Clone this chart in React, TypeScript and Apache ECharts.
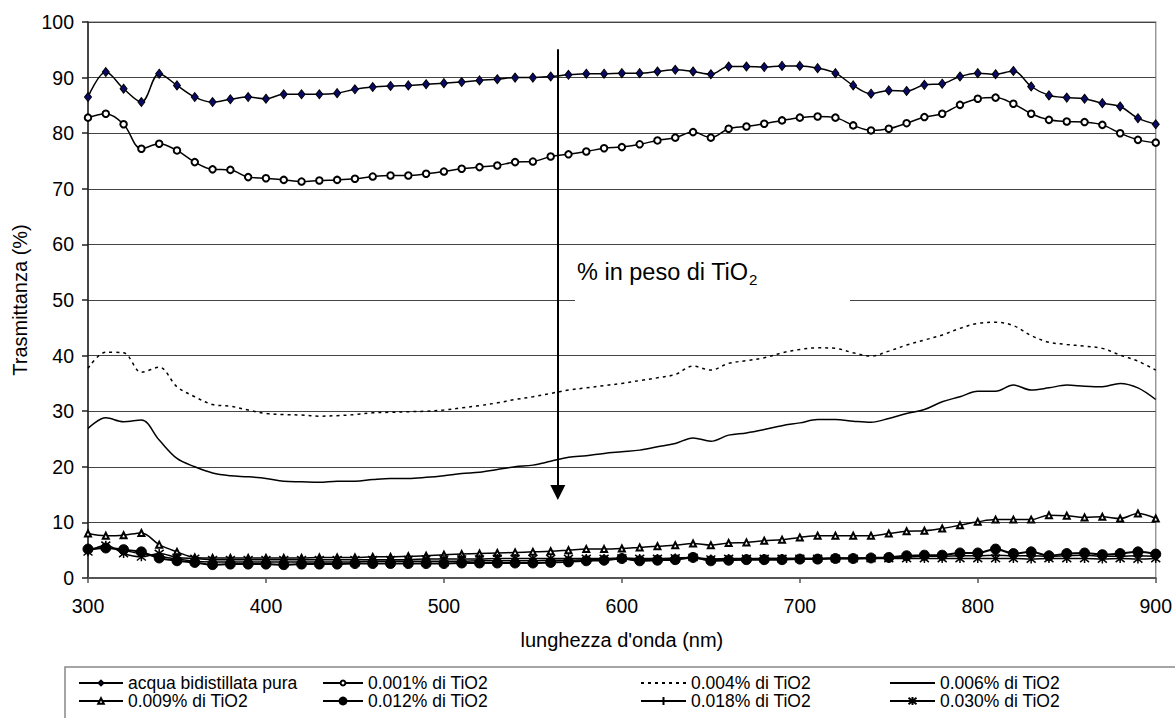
import React, { useEffect, useRef } from "react";
import * as echarts from "echarts";

const wavelengths = [
  300, 310, 320, 330, 340, 350, 360, 370, 380, 390, 400, 410, 420, 430, 440, 450, 460, 470, 480, 490,
  500, 510, 520, 530, 540, 550, 560, 570, 580, 590, 600, 610, 620, 630, 640, 650, 660, 670, 680, 690,
  700, 710, 720, 730, 740, 750, 760, 770, 780, 790, 800, 810, 820, 830, 840, 850, 860, 870, 880, 890, 900,
];

const seriesNames = [
  "acqua bidistillata pura",
  "0.001% di TiO2",
  "0.004% di TiO2",
  "0.006% di TiO2",
  "0.009% di TiO2",
  "0.012% di TiO2",
  "0.018% di TiO2",
  "0.030% di TiO2",
];

const acqua = [
  86.5, 91.0, 88.0, 85.6, 90.7, 88.6, 86.5, 85.6, 86.1, 86.5, 86.2, 87.0, 87.0, 87.0, 87.2, 87.9, 88.3, 88.5, 88.6, 88.8,
  89.0, 89.2, 89.5, 89.7, 90.0, 90.0, 90.2, 90.5, 90.7, 90.7, 90.8, 90.8, 91.1, 91.4, 91.1, 90.6, 92.0, 92.0, 91.9, 92.1,
  92.1, 91.7, 90.8, 88.6, 87.1, 87.7, 87.6, 88.7, 88.9, 90.2, 90.8, 90.6, 91.2, 88.4, 86.8, 86.4, 86.2, 85.4, 84.8, 82.7, 81.6,
];

const tio2_001 = [
  82.8, 83.5, 81.6, 77.2, 78.1, 76.9, 74.8, 73.5, 73.4, 72.1, 71.9, 71.6, 71.3, 71.5, 71.6, 71.8, 72.2, 72.4, 72.4, 72.7,
  73.1, 73.6, 73.9, 74.2, 74.8, 74.9, 75.8, 76.2, 76.7, 77.3, 77.5, 78.0, 78.7, 79.2, 80.2, 79.2, 80.8, 81.2, 81.7, 82.3,
  82.8, 83.0, 82.8, 81.4, 80.5, 80.8, 81.8, 82.9, 83.5, 85.1, 86.2, 86.4, 85.3, 83.5, 82.4, 82.1, 82.0, 81.5, 80.0, 78.8, 78.3,
];

const tio2_004 = [
  37.7, 40.6, 40.5, 37.0, 37.9, 34.4, 32.6, 31.2, 30.9, 30.2, 29.6, 29.4, 29.3, 29.1, 29.2, 29.4, 29.7, 29.8, 29.9, 30.0,
  30.2, 30.6, 31.0, 31.5, 32.1, 32.6, 33.2, 33.8, 34.2, 34.6, 35.0, 35.5, 36.0, 36.6, 38.1, 37.4, 38.6, 39.1, 39.6, 40.5,
  41.1, 41.4, 41.3, 40.5, 39.9, 40.8, 41.9, 42.8, 43.7, 44.9, 45.8, 46.0, 45.4, 43.6, 42.4, 42.0, 41.7, 41.3, 40.1, 39.0, 37.4,
];

const tio2_006 = [
  26.9, 28.8, 28.1, 28.4, 24.8, 21.5, 20.0, 18.9, 18.4, 18.2, 17.9, 17.4, 17.3, 17.2, 17.4, 17.4, 17.7, 17.9, 17.9, 18.1,
  18.4, 18.8, 19.0, 19.5, 20.0, 20.3, 21.0, 21.7, 22.0, 22.4, 22.7, 23.0, 23.6, 24.2, 25.2, 24.6, 25.7, 26.1, 26.7, 27.4,
  27.9, 28.5, 28.5, 28.2, 28.0, 28.7, 29.6, 30.3, 31.7, 32.6, 33.6, 33.6, 34.7, 33.8, 34.2, 34.7, 34.5, 34.4, 35.0, 34.2, 32.1,
];

const tio2_009 = [
  8.0, 7.6, 7.7, 8.1, 6.0, 4.7, 3.7, 3.6, 3.6, 3.6, 3.6, 3.6, 3.6, 3.7, 3.7, 3.7, 3.8, 3.8, 3.9, 4.0,
  4.2, 4.3, 4.4, 4.5, 4.6, 4.7, 4.8, 5.0, 5.2, 5.2, 5.3, 5.5, 5.7, 5.9, 6.2, 5.9, 6.3, 6.4, 6.7, 6.9,
  7.3, 7.6, 7.6, 7.6, 7.6, 8.0, 8.4, 8.5, 8.9, 9.5, 10.1, 10.5, 10.5, 10.5, 11.3, 11.2, 10.9, 11.0, 10.7, 11.6, 10.7,
];

const tio2_012 = [
  5.2, 5.4, 5.1, 4.7, 3.6, 3.1, 2.8, 2.4, 2.5, 2.5, 2.5, 2.4, 2.5, 2.5, 2.5, 2.6, 2.6, 2.6, 2.6, 2.6,
  2.6, 2.7, 2.7, 2.7, 2.7, 2.7, 2.8, 2.9, 3.1, 3.2, 3.5, 3.1, 3.2, 3.3, 3.7, 3.1, 3.2, 3.3, 3.3, 3.3,
  3.4, 3.4, 3.5, 3.5, 3.6, 3.7, 4.0, 4.1, 4.1, 4.5, 4.5, 5.2, 4.4, 4.7, 4.0, 4.4, 4.5, 4.2, 4.4, 4.7, 4.3,
];

const tio2_018 = [
  5.0, 5.4, 5.0, 4.3, 3.9, 3.4, 3.0, 2.9, 2.9, 2.9, 2.9, 2.9, 2.9, 2.9, 2.9, 2.9, 3.0, 3.0, 3.0, 3.0,
  3.0, 3.0, 3.1, 3.1, 3.1, 3.1, 3.2, 3.2, 3.3, 3.3, 3.5, 3.3, 3.4, 3.4, 3.6, 3.3, 3.4, 3.4, 3.5, 3.5,
  3.5, 3.5, 3.6, 3.6, 3.6, 3.7, 3.8, 3.9, 3.9, 4.0, 4.0, 4.1, 4.0, 4.0, 3.9, 4.0, 4.1, 3.9, 3.9, 4.0, 3.9,
];

const tio2_030 = [
  4.7, 5.9, 4.4, 3.8, 4.4, 3.7, 3.5, 3.3, 3.3, 3.3, 3.3, 3.3, 3.3, 3.3, 3.3, 3.3, 3.3, 3.3, 3.3, 3.4,
  3.4, 3.4, 3.4, 3.5, 3.5, 3.5, 3.5, 3.5, 3.5, 3.5, 3.6, 3.5, 3.5, 3.6, 3.7, 3.4, 3.5, 3.5, 3.5, 3.5,
  3.5, 3.5, 3.5, 3.5, 3.5, 3.5, 3.5, 3.5, 3.5, 3.5, 3.5, 3.5, 3.5, 3.4, 3.5, 3.5, 3.5, 3.4, 3.5, 3.4, 3.5,
];

const xTicks = { min: 300, max: 900, interval: 100 };
const yTicks = { min: 0, max: 100, interval: 10 };

// arrow annotation endpoints, in data units
const arrowX = 564;
const arrowTop = 95.1;
const arrowEnd = 15.4;

const FONT = "'Liberation Sans', Arial, sans-serif";

const PLUS = "path://M0,-5L0,5M-5,0L5,0";
const STAR = "path://M-4,-4L4,4M-4,4L4,-4M0,-5L0,5";

function pairs(vals: number[]) {
  return wavelengths.map((w, i) => [w, vals[i]]);
}

export default function App() {
  const ref = useRef<HTMLDivElement>(null);

  useEffect(() => {
    document.body.style.margin = "0";
    const chart = echarts.init(ref.current!, null, { renderer: "svg" });

    const base = (name: string, vals: number[]) => ({
      name,
      type: "line",
      data: pairs(vals),
      smooth: 0.35,
      lineStyle: { color: "#000", width: 1.5 },
      itemStyle: { color: "#000", borderColor: "#000" },
    });

    const series: any[] = [
      {
        ...base(seriesNames[0], acqua),
        symbol: "diamond",
        symbolSize: [7, 9],
        itemStyle: { color: "#0a0a66", borderColor: "#000", borderWidth: 1 },
        markLine: {
          silent: true,
          symbol: ["none", "triangle"],
          symbolSize: [15, 15],
          label: { show: false },
          lineStyle: { color: "#000", width: 2, type: "solid" },
          data: [[{ coord: [arrowX, arrowTop] }, { coord: [arrowX, arrowEnd] }]],
        },
      },
      {
        ...base(seriesNames[1], tio2_001),
        symbol: "emptyCircle",
        symbolSize: 6.5,
        itemStyle: { color: "#000", borderColor: "#000", borderWidth: 1.2 },
      },
      {
        ...base(seriesNames[2], tio2_004),
        symbol: "none",
        lineStyle: { color: "#000", width: 1.5, type: [3, 4] },
      },
      {
        ...base(seriesNames[3], tio2_006),
        symbol: "none",
      },
      {
        ...base(seriesNames[4], tio2_009),
        symbol: "emptyTriangle",
        symbolSize: 6,
        itemStyle: { color: "#000", borderColor: "#000", borderWidth: 1.2 },
      },
      {
        ...base(seriesNames[5], tio2_012),
        symbol: "circle",
        symbolSize: 10,
        lineStyle: { color: "#000", width: 2 },
        itemStyle: { color: "#000", borderColor: "#000" },
      },
      {
        ...base(seriesNames[6], tio2_018),
        symbol: PLUS,
        symbolSize: 9,
        itemStyle: { color: "none", borderColor: "#000", borderWidth: 1.5 },
      },
      {
        ...base(seriesNames[7], tio2_030),
        symbol: STAR,
        symbolSize: 9,
        itemStyle: { color: "none", borderColor: "#000", borderWidth: 1.5 },
      },
    ];

    // [left, top, itemWidth, itemHeight, hideMarker]
    const legendLayout: [number, number, number, number, boolean][] = [
      [78, 674, 44, 6, false],
      [322, 674, 40, 6, false],
      [640, 674, 45, 6, true],
      [889, 674, 45, 6, true],
      [78, 692, 44, 7, false],
      [322, 692, 40, 11, false],
      [640, 692, 45, 10, false],
      [889, 692, 45, 10, false],
    ];

    const legends = legendLayout.map(([left, top, w, h, hide], si) => ({
      data: [hide ? { name: seriesNames[si], itemStyle: { opacity: 0 } } : seriesNames[si]],
      left,
      top,
      padding: 0,
      itemWidth: w,
      itemHeight: h,
      selectedMode: false,
      textStyle: { fontFamily: FONT, fontSize: 17.5, color: "#000", lineHeight: 18 },
    }));

    chart.setOption({
      animation: false,
      backgroundColor: "#fff",
      textStyle: { fontFamily: FONT },
      grid: {
        left: 88,
        right: 19,
        top: 22,
        bottom: 140,
        show: true,
        borderColor: "#999",
        borderWidth: 1.5,
        backgroundColor: "transparent",
      },
      legend: legends,
      xAxis: {
        type: "value",
        min: xTicks.min,
        max: xTicks.max,
        interval: xTicks.interval,
        name: "lunghezza d'onda (nm)",
        nameLocation: "middle",
        nameGap: 52,
        nameTextStyle: { fontFamily: FONT, fontSize: 20, color: "#000" },
        axisLine: { show: true, lineStyle: { color: "#555", width: 2 } },
        axisTick: { show: true, inside: false, length: 5, lineStyle: { color: "#555", width: 1.5 } },
        axisLabel: { fontFamily: FONT, fontSize: 19.5, color: "#000", margin: 18 },
        splitLine: { show: false },
      },
      yAxis: {
        type: "value",
        min: yTicks.min,
        max: yTicks.max,
        interval: yTicks.interval,
        name: "Trasmittanza (%)",
        nameLocation: "middle",
        nameRotate: 90,
        nameGap: 58,
        nameTextStyle: { fontFamily: FONT, fontSize: 20, color: "#000" },
        axisLine: { show: true, lineStyle: { color: "#222", width: 1.5 } },
        axisTick: { show: true, inside: false, length: 6, lineStyle: { color: "#222", width: 1.5 } },
        axisLabel: { fontFamily: FONT, fontSize: 19.5, color: "#000", margin: 14 },
        splitLine: { show: true, lineStyle: { color: "#444", width: 1 } },
      },
      graphic: [
        {
          type: "rect",
          z: 1,
          shape: { x: 575, y: 292, width: 275, height: 16 },
          style: { fill: "#fff" },
          silent: true,
        },
        {
          type: "text",
          z: 5,
          x: 577,
          y: 272,
          style: {
            text: "% in peso di TiO",
            font: `23.5px ${FONT}`,
            fill: "#000",
            verticalAlign: "middle",
            align: "left",
          },
        },
        {
          type: "text",
          z: 5,
          x: 749,
          y: 279,
          style: {
            text: "2",
            font: `15px ${FONT}`,
            fill: "#000",
            verticalAlign: "middle",
            align: "left",
          },
        },
        {
          type: "rect",
          z: 5,
          shape: { x: 65, y: 667, width: 1200, height: 120 },
          style: { fill: "none", stroke: "#888", lineWidth: 1.5 },
          silent: true,
        },
      ],
      series,
    });

    return () => {
      chart.dispose();
    };
  }, []);

  return (
    <div
      ref={ref}
      style={{ position: "fixed", left: 0, top: 0, width: 1175, height: 718, background: "#fff" }}
    />
  );
}
